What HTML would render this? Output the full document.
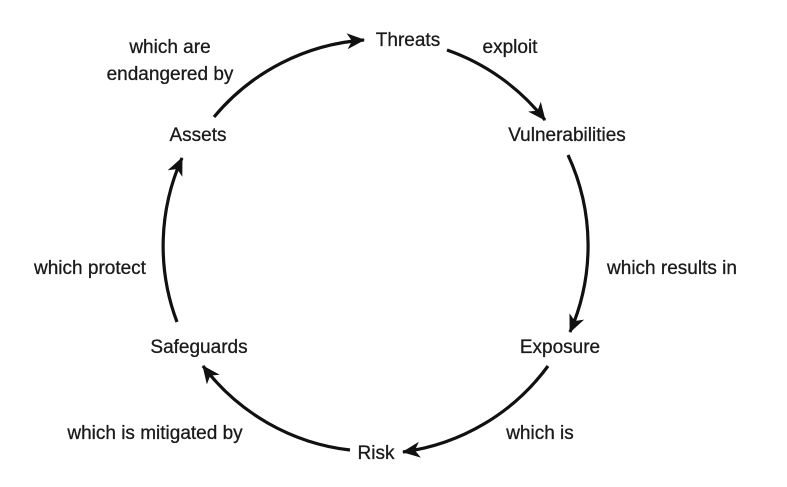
<!DOCTYPE html>
<html><head><style>
html,body{margin:0;padding:0;background:#fff;}
svg{display:block;}
text{font-family:"Liberation Sans",sans-serif;font-size:19px;fill:#1a1a1a;stroke:#1a1a1a;stroke-width:0.3;}
</style></head><body>
<svg width="787" height="487" viewBox="0 0 787 487">
<defs>
<marker id="a" markerWidth="20" markerHeight="16" refX="17" refY="8" orient="auto" markerUnits="userSpaceOnUse">
<path d="M0,0 L18,8 L0,16 L5,8 Z" fill="#111"/>
</marker>
</defs>
<g fill="none" stroke="#111" stroke-width="3.2" marker-end="url(#a)">
<path d="M214,117 A215,215 0 0 1 364,40"/>
<path d="M447,50 A215,215 0 0 1 545,120"/>
<path d="M568,155 A215,215 0 0 1 570,332"/>
<path d="M548,366 A215,215 0 0 1 403,452"/>
<path d="M350,450 A215,215 0 0 1 203,366"/>
<path d="M177,322 A215,215 0 0 1 182,158"/>
</g>
<g text-anchor="middle">
<text x="408" y="46">Threats</text>
<text x="510" y="53">exploit</text>
<text x="170" y="53">which are</text>
<text x="170" y="80">endangered by</text>
<text x="198" y="141">Assets</text>
<text x="567" y="141">Vulnerabilities</text>
<text x="90" y="274">which protect</text>
<text x="672" y="274">which results in</text>
<text x="199" y="353">Safeguards</text>
<text x="560" y="353">Exposure</text>
<text x="155" y="439">which is mitigated by</text>
<text x="540" y="439">which is</text>
<text x="376" y="459">Risk</text>
</g>
</svg>
</body></html>
